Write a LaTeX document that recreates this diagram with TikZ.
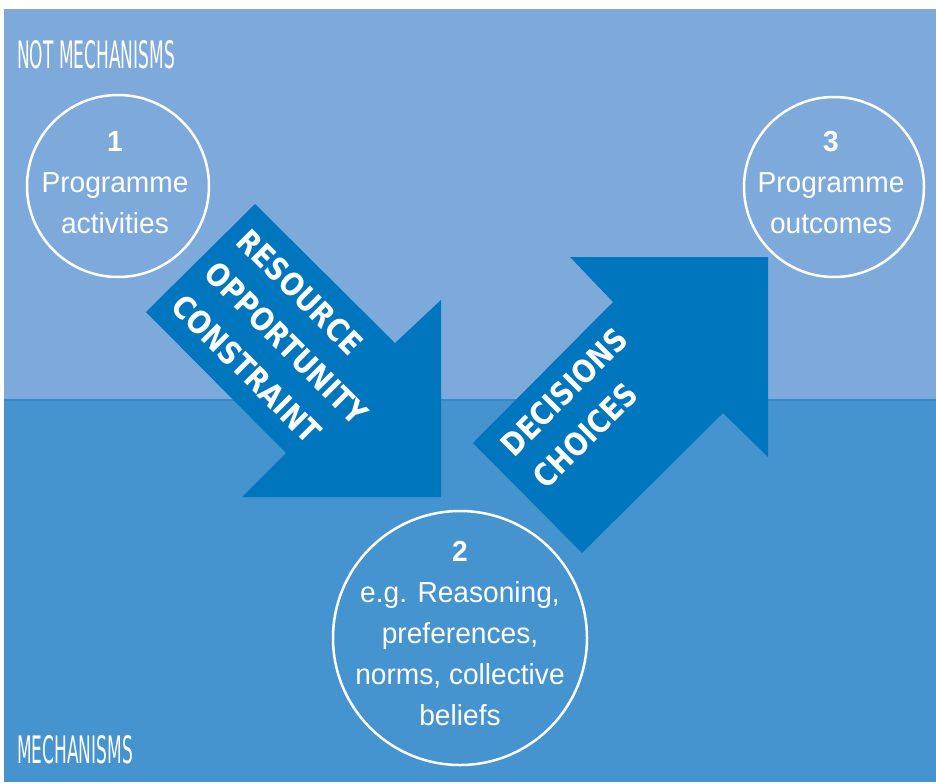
\documentclass[tikz,border=0pt]{standalone}
\usepackage{fontspec}
\setmainfont{Liberation Sans}[FakeStretch=0.97]
\newfontfamily\headfont{DejaVu Sans}[FakeStretch=0.45]
\newfontfamily\arrowfont{DejaVu Sans}[FakeStretch=0.85]
\definecolor{skyblue}{HTML}{7DAADB}
\definecolor{midblue}{HTML}{4593CF}
\definecolor{deepblue}{HTML}{0076BF}
\definecolor{lineblue}{HTML}{3A86C6}
\tikzset{
	bubble/.style={circle, draw=white, line width=2.5pt, inner sep=0pt},
	bubbletext/.style={text=white, align=center, inner sep=0pt, font=\fontsize{29}{41}\selectfont},
	heading/.style={text=white, anchor=base west, inner sep=0pt, font=\headfont\fontsize{37.8}{40}\selectfont},
	arrowtext/.style={text=white, align=left, anchor=north west, inner sep=0pt, font=\arrowfont\bfseries\fontsize{31.5}{46}\selectfont}
}

\begin{document}
\begin{tikzpicture}[x=1pt, y=-1pt]
		%%%%% START %%%%%
		\useasboundingbox (0, 0) rectangle (936, 782);
		
		\fill[skyblue] (4, 9) rectangle (936, 400);
		\fill[midblue] (4, 400) rectangle (936, 782);
		\draw[line width=1.5pt, color=lineblue] (4, 400) -- (936, 400);
		
		\fill[deepblue] (255, 204) -- (146, 312) -- (286, 453) -- (242, 497) -- (441, 497) -- (441, 300) -- (395, 343) -- cycle;
		\fill[deepblue] (570, 257) -- (768, 257) -- (768, 457) -- (723, 413) -- (582, 553) -- (473, 443) -- (613, 302) -- cycle;
		
		\node[arrowtext, rotate=-45] (push) at (251.5, 226.5) {RESOURCE\\OPPORTUNITY\\CONSTRAINT};
		\node[arrowtext, rotate=45] (pull) at (497.5, 441.5) {DECISIONS\\CHOICES};
		
		\node[bubble, minimum size=182pt] (activities) at (118, 186) {};
		\node[bubbletext] (activitiestext) at (115, 182.5) {\textbf{1}\\Programme\\activities};
		
		\node[bubble, minimum size=180pt] (outcomes) at (834, 187) {};
		\node[bubbletext] (outcomestext) at (831, 182.5) {\textbf{3}\\Programme\\outcomes};
		
		\node[bubble, minimum size=254pt] (mechanism) at (460, 638) {};
		\node[bubbletext] (mechanismtext) at (460, 634) {\textbf{2}\\e.g. Reasoning,\\preferences,\\norms, collective\\beliefs};
		
		\node[heading] (nothead) at (17, 68) {NOT MECHANISMS};
		\node[heading] (mechhead) at (17, 763) {MECHANISMS};
		
		%%%%% END %%%%%
\end{tikzpicture}
\end{document}
